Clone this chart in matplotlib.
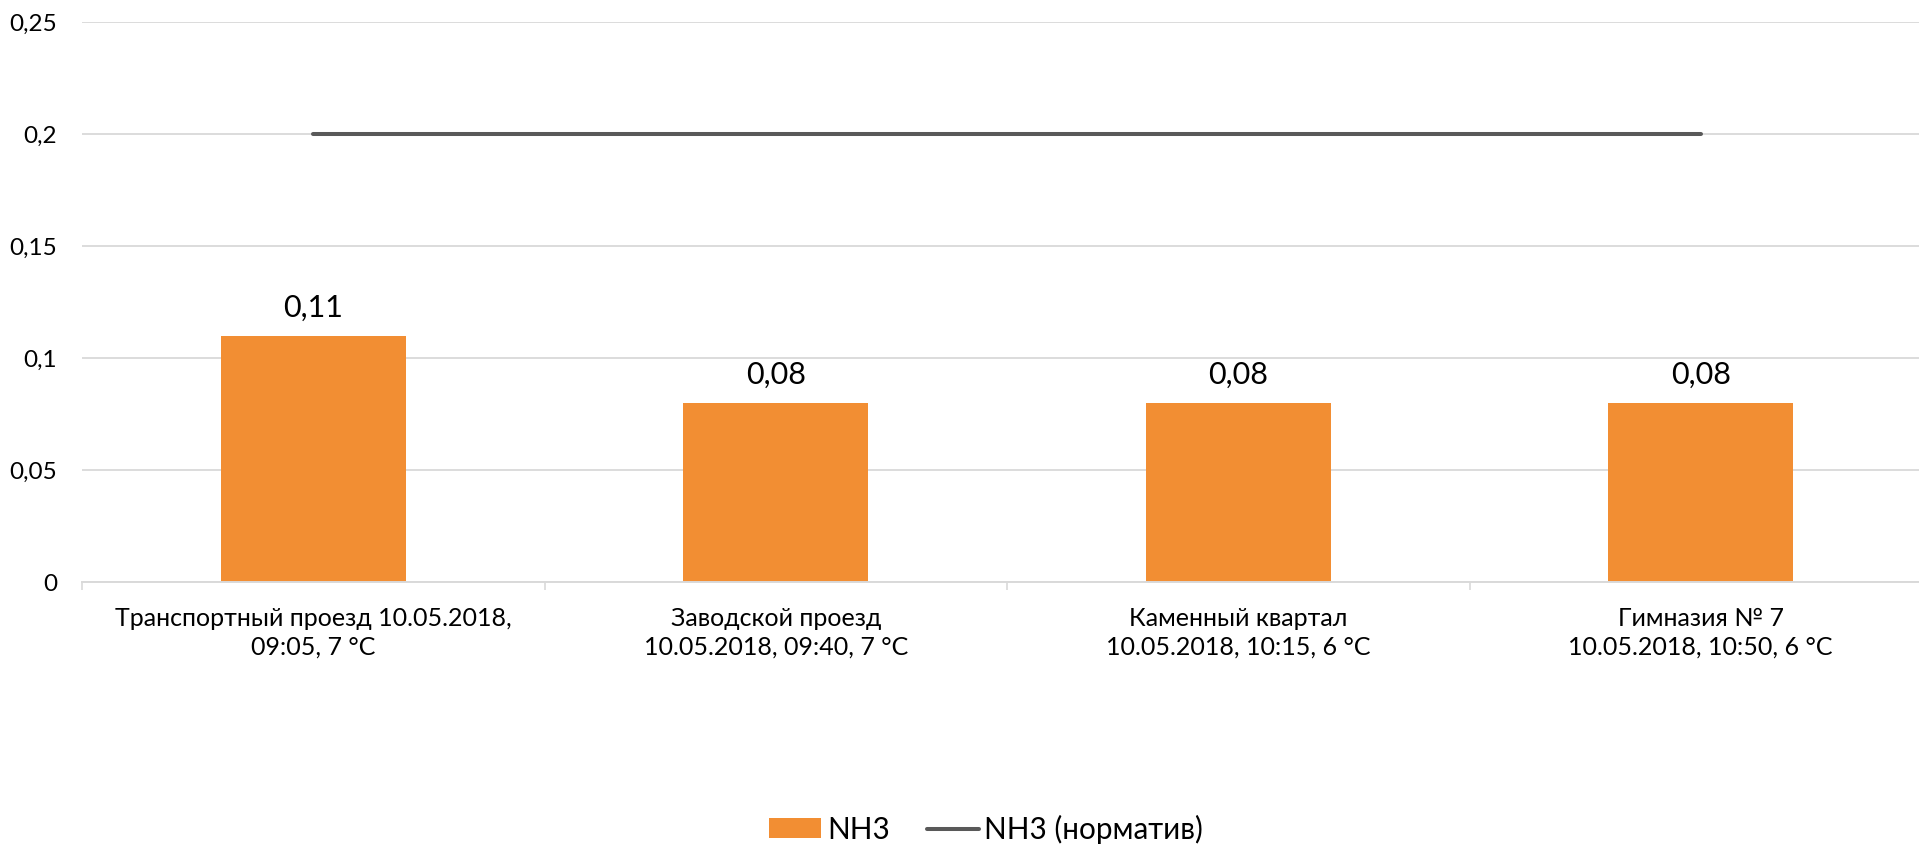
# NH3 concentrations at monitoring points vs the norm

import matplotlib
matplotlib.use('Agg')
import matplotlib.pyplot as plt

# Data
places = [
    'Транспортный проезд 10.05.2018,\n09:05, 7 °C',
    'Заводской проезд\n10.05.2018, 09:40, 7 °C',
    'Каменный квартал\n10.05.2018, 10:15, 6 °C',
    'Гимназия № 7\n10.05.2018, 10:50, 6 °C',
]
nh3 = [0.11, 0.08, 0.08, 0.08]
nh3_norm = [0.2, 0.2, 0.2, 0.2]
y_ticks = [0, 0.05, 0.1, 0.15, 0.2, 0.25]
y_labels = ['0', '0,05', '0,1', '0,15', '0,2', '0,25']

plt.rcParams['font.family'] = ['Lato', 'DejaVu Sans']

fig = plt.figure(figsize=(19.19, 8.47), dpi=100)
# plot area runs a little past the right edge, like the original crop
ax = fig.add_axes([82 / 1919, 1 - 582 / 847, 1850 / 1919, 560 / 847])

x = list(range(len(places)))
bars = ax.bar(x, nh3, width=0.4, color='#f28e33', label='NH3', zorder=2)
line, = ax.plot(x, nh3_norm, color='#595959', lw=2.9, solid_capstyle='round',
                label='NH3 (норматив)', zorder=3)

# value labels above the bars
for xi, v in zip(x, nh3):
    ax.annotate(f'{v:g}'.replace('.', ','), (xi, v), xytext=(0, 10),
                textcoords='offset points', ha='center', va='bottom',
                fontsize=22, color='black')

ax.set_xlim(-0.5, len(places) - 0.5)
ax.set_ylim(0, 0.25)
ax.set_yticks(y_ticks)
ax.set_yticklabels(y_labels, fontsize=17.5)
ax.set_xticks(x)
ax.set_xticklabels(places, fontsize=18, linespacing=1.3)
ax.set_xticks([i - 0.5 for i in range(len(places) + 1)], minor=True)

ax.tick_params(axis='y', length=0, pad=18, labelcolor='black')
ax.tick_params(axis='x', which='major', length=0, pad=18, labelcolor='black')
ax.tick_params(axis='x', which='minor', length=6, width=1.2, color='#d9d9d9')

ax.grid(axis='y', color='#d9d9d9', lw=1.3, zorder=0)
ax.set_axisbelow(True)
for s in ['top', 'right', 'left']:
    ax.spines[s].set_visible(False)
ax.spines['bottom'].set_color('#d9d9d9')
ax.spines['bottom'].set_linewidth(1.4)

fig.legend([bars, line], ['NH3', 'NH3 (норматив)'], loc='lower center',
           bbox_to_anchor=(0.514, -0.01), borderaxespad=0, ncol=2,
           frameon=False, fontsize=21.3, handlelength=1.75, handleheight=0.65,
           handletextpad=0.2, columnspacing=1.25)

fig.savefig('out.png', dpi=100)
